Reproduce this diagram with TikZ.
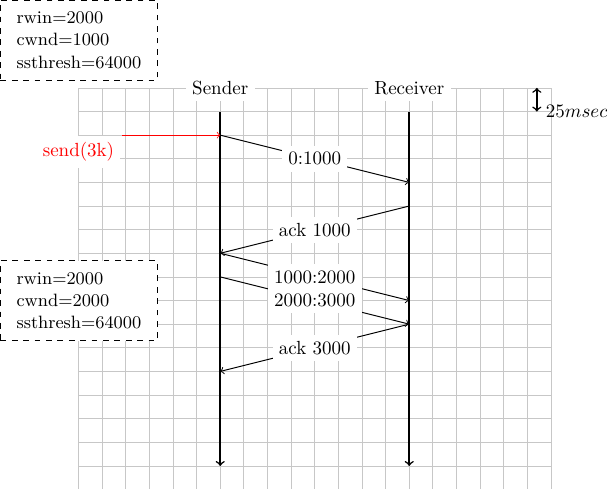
\documentclass[tikz,border=0pt]{standalone}
\begin{document}
\begin{tikzpicture}[x=12.44pt,y=12.44pt,
  lbl/.style={fill=white, inner sep=3.33pt},
  statebox/.style={draw, dashed, fill=white, align=left,
    minimum width=82.6pt, minimum height=42.1pt, inner sep=2pt,
    font=\fontsize{9.4}{11.8}\selectfont},
  lifeline/.style={->, thick},
  msg/.style={->, line width=0.5pt}]
\useasboundingbox (-3.32,0.03) rectangle (22.37,20.72);

% background grid, one square per 25 msec
\draw[black!22, line width=0.4pt, step=12.44pt] (0,0) grid (20,17);

% hosts and their time lines
\node[lbl] (snd) at (6,17) {Sender};
\node[lbl] (rcv) at (14,17) {Receiver};
\coordinate (S16) at (6,16);
\coordinate (S1)  at (6,1);
\coordinate (R16) at (14,16);
\coordinate (R1)  at (14,1);
\draw[lifeline] (S16) -- (S1);
\draw[lifeline] (R16) -- (R1);

% event points on the time lines
\coordinate (S15) at (6,15);
\coordinate (S10) at (6,10);
\coordinate (S9)  at (6,9);
\coordinate (S5)  at (6,5);
\coordinate (R13) at (14,13);
\coordinate (R12) at (14,12);
\coordinate (R8)  at (14,8);
\coordinate (R7)  at (14,7);

% application request
\coordinate (app) at (1.86,15);
\draw[->, red, line width=0.4pt] (app) -- (S15);
\node[lbl, text=red] (sendlbl) at (0,14.29) {send(3k)};

% segments and acknowledgements
\draw[msg] (S15) -- (R13);
\draw[msg] (R12) -- (S10);
\draw[msg] (S10) -- (R8);
\draw[msg] (S9)  -- (R7);
\draw[msg] (R7)  -- (S5);

\path (S15) -- node[lbl] (m1) {0:1000} (R13);
\path (R12) -- node[lbl] (a1) {ack 1000} (S10);
\path (S10) -- node[lbl] (m2) {1000:2000} (R8);
\path (S9)  -- node[lbl] (m3) {2000:3000} (R7);
\path (R7)  -- node[lbl] (a3) {ack 3000} (S5);

% sender state
\node[statebox] (st1) at (0.02,19.02) {rwin=2000\\cwnd=1000\\ssthresh=64000};
\node[statebox] (st2) at (0.02,7.99)  {rwin=2000\\cwnd=2000\\ssthresh=64000};

% time scale
\coordinate (tA) at (19.4,17);
\coordinate (tB) at (19.4,16);
\draw[<->, thick] (tA) -- (tB);
\node[anchor=west] (dur) at (19.5,16.02) {$25 msec$};
\end{tikzpicture}
\end{document}
